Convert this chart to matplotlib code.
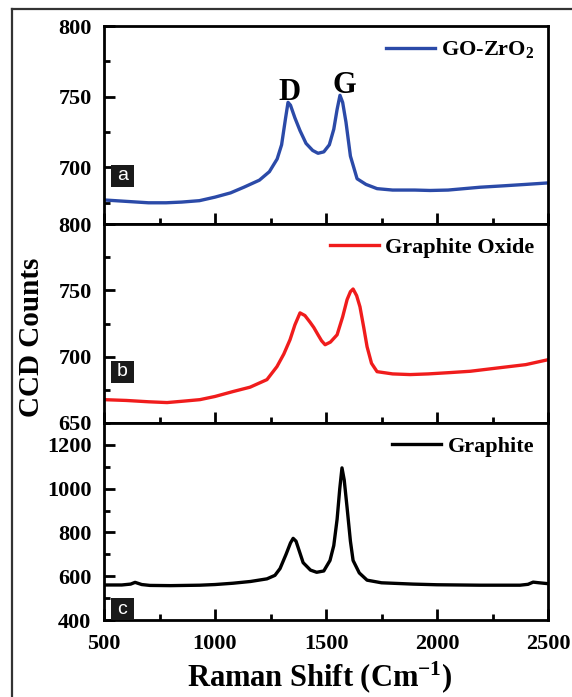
import matplotlib
matplotlib.use("Agg")
import matplotlib.pyplot as plt
from matplotlib.lines import Line2D
from matplotlib.patches import Rectangle
from matplotlib.ticker import MultipleLocator

plt.rcParams['font.family'] = ['Liberation Serif', 'DejaVu Serif']
plt.rcParams['font.weight'] = 'bold'
plt.rcParams['mathtext.fontset'] = 'custom'
plt.rcParams['mathtext.rm'] = 'Liberation Serif:bold'
plt.rcParams['mathtext.bf'] = 'Liberation Serif:bold'
plt.rcParams['mathtext.default'] = 'rm'

# GO-ZrO2 spectrum (panel a)
go_zro2_x = [500, 600, 700, 780, 850, 930, 1000, 1070, 1130, 1200, 1245, 1280,
             1300, 1318, 1329, 1340, 1360, 1383, 1410, 1440, 1464, 1490, 1515,
             1535, 1550, 1563, 1575, 1590, 1610, 1640, 1680, 1730, 1800, 1900,
             1969, 2050, 2194, 2300, 2400, 2496]
go_zro2_y = [677, 676, 675, 675, 675.5, 676.5, 679, 682, 686, 691, 697, 706,
             716, 735, 746, 744, 735, 726, 717, 712, 710, 711, 716,
             727, 741, 751, 746, 732, 708, 692, 688, 685, 684, 684,
             683.7, 684, 686, 687, 688, 689]

# Graphite oxide spectrum (panel b)
go_x = [500, 600, 700, 784, 860, 932, 1000, 1081, 1158, 1234, 1279, 1310,
        1338, 1360, 1383, 1405, 1428, 1445, 1464, 1480, 1496, 1520, 1550,
        1575, 1595, 1610, 1622, 1638, 1653, 1670, 1685, 1705, 1730, 1800,
        1879, 1960, 2059, 2150, 2284, 2400, 2500]
go_y = [667.6, 667, 666, 665.4, 666.5, 667.6, 670, 673.7, 677, 682.7, 692.5, 702,
        712.8, 724, 733, 731, 726, 722, 716.5, 712, 709, 711, 716.5,
        730, 743, 749, 751, 746, 737.6, 722, 707.5, 695, 688.7, 687,
        686.5, 687, 688, 689, 691.7, 694, 697.7]

# Graphite spectrum (panel c)
gr_x = [500, 580, 620, 640, 670, 707, 800, 932, 1000, 1081, 1160, 1234, 1270,
        1293, 1320, 1340, 1352, 1365, 1397, 1430, 1458, 1490, 1518, 1535,
        1550, 1562, 1572, 1582, 1595, 1610, 1622, 1650, 1685, 1750, 1892,
        2000, 2194, 2374, 2410, 2433, 2460, 2500]
gr_y = [560, 560, 564, 572, 562, 558, 557, 559, 562, 568, 576, 588, 604,
        635, 700, 752, 773, 760, 662, 628, 618, 624, 672, 740,
        860, 1000, 1095, 1040, 913, 760, 672, 615, 582, 570, 564,
        561, 559, 559, 563, 573, 570, 566]

series = [
    (go_zro2_x, go_zro2_y, '#2b4aa8', 'GO-ZrO$_2$', (660, 800), [700, 750, 800], 25, 'a'),
    (go_x, go_y, '#f01c1c', 'Graphite Oxide', (650, 800), [650, 700, 750, 800], 25, 'b'),
    (gr_x, gr_y, '#000000', 'Graphite', (400, 1300), [400, 600, 800, 1000, 1200], 100, 'c'),
]

fig = plt.figure(figsize=(5.72, 6.97), dpi=100)
left, right = 104 / 572, 548 / 572
edges = [26, 224, 423, 620]
axes = []
for i, (xs, ys, color, label, ylim, yt, ymin, tag) in enumerate(series):
    top = 1 - edges[i] / 697
    bottom = 1 - edges[i + 1] / 697
    ax = fig.add_axes([left, bottom, right - left, top - bottom])
    ax.plot(xs, ys, color=color, lw=2.4, label=label)
    ax.set_xlim(500, 2500)
    ax.set_ylim(*ylim)
    ax.set_yticks(yt)
    ax.yaxis.set_minor_locator(MultipleLocator(ymin))
    ax.xaxis.set_major_locator(MultipleLocator(500))
    ax.xaxis.set_minor_locator(MultipleLocator(250))
    ax.tick_params(which='both', direction='in', top=False, right=False,
                   width=2, labelsize=16)
    ax.tick_params(which='major', length=8)
    ax.tick_params(which='minor', length=4)
    ax.tick_params(axis='y', pad=9)
    ax.tick_params(axis='x', pad=10)
    for s in ax.spines.values():
        s.set_linewidth(2)
    if i < 2:
        ax.tick_params(labelbottom=False)
    leg = ax.legend(loc='upper right', frameon=False, fontsize=16,
                    handlelength=2.2, handletextpad=0.3,
                    borderaxespad=0.2)
    for ln in leg.get_lines():
        ln.set_linewidth(2.4)
    # panel tag box
    h = 22 / (edges[i + 1] - edges[i])
    y0 = 0 if tag == 'c' else (37 / 198 if tag == 'a' else 40 / 199)
    ax.add_patch(Rectangle((7 / 444, y0), 23 / 444, h, transform=ax.transAxes,
                           facecolor='#1a1a1a', edgecolor='none', zorder=5))
    ax.text(18.5 / 444, y0 + h / 2, tag, transform=ax.transAxes, color='white',
            fontsize=14, fontweight='normal', family='Liberation Sans',
            ha='center', va='center', zorder=6)
    axes.append(ax)

axes[0].text(1335, 747.5, 'D', fontsize=22, ha='center', va='baseline')
axes[0].text(1581, 752.5, 'G', fontsize=22, ha='center', va='baseline')

fig.text(32 / 572, 1 - 337 / 697, 'CCD Counts', rotation=90, fontsize=21,
         ha='center', va='center')
fig.text(320 / 572, 1 - 686 / 697, 'Raman Shift (Cm$^{-1}$)', fontsize=22,
         ha='center', va='baseline')

# outer frame
fig.add_artist(Line2D([12 / 572, 12 / 572], [0, 1 - 9 / 697],
                      transform=fig.transFigure, color='#333333', lw=1.6))
fig.add_artist(Line2D([12 / 572, 1], [1 - 9 / 697, 1 - 9 / 697],
                      transform=fig.transFigure, color='#333333', lw=1.6))

fig.savefig('out.png', dpi=100)
